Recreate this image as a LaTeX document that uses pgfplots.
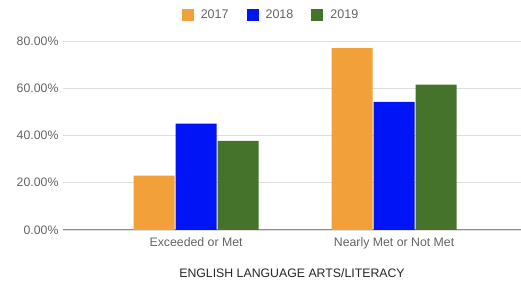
\documentclass[border=0pt]{standalone}
\usepackage{pgfplots}
\pgfplotsset{compat=1.18}
\usepackage{fontspec}
\setmainfont{Liberation Sans}
\definecolor{c17}{RGB}{241,160,58}
\definecolor{c18}{RGB}{0,20,245}
\definecolor{c19}{RGB}{69,115,43}
\definecolor{txt}{RGB}{100,100,100}
\begin{document}
\begin{tikzpicture}[x=1pt,y=1pt]
\path[use as bounding box] (0,0) rectangle (521,286);
\begin{axis}[
  at={(63pt,56pt)}, anchor=south west,
  scale only axis, width=458pt, height=189pt,
  ymin=0, ymax=80, xmin=-0.672, xmax=1.641,
  ytick={0,20,40,60,80},
  xtick={0,1}, xticklabels={Exceeded or Met, Nearly Met or Not Met},
  yticklabel={\pgfmathprintnumber[fixed,fixed zerofill,precision=2]{\tick}\%},
  /pgf/number format/assume math mode=true,
  ymajorgrids, grid style={draw=black!13, line width=0.8pt},
  axis y line*=left, y axis line style={draw=none},
  axis x line*=bottom,
  x axis line style={draw=black!45, line width=1pt, -},
  major tick length=0pt,
  tick label style={font=\fontsize{12.3}{14}\selectfont, text=txt},
  yticklabel style={xshift=-1pt},
  xticklabel style={yshift=-4pt},
  xlabel={ENGLISH LANGUAGE ARTS/LITERACY},
  xlabel style={font=\fontsize{12.3}{14}\selectfont, text=black!85, yshift=-13pt},
  ybar, bar width=41pt,
  legend style={at={(208pt,215pt)}, anchor=center, draw=none, fill=none,
    legend columns=3, font=\fontsize{12.5}{14}\selectfont, text=txt,
    /tikz/every odd column/.append style={column sep=5pt},
    /tikz/every even column/.append style={column sep=16pt}},
  legend image code/.code={\draw[#1, draw=none] (0pt,-6pt) rectangle (12pt,6pt);},
  clip=false,
]
\addplot[fill=c17, draw=none, bar shift=-42pt] coordinates {(0,23) (1,77)};
\addplot[fill=c18, draw=none, bar shift=0pt] coordinates {(0,45) (1,54.2)};
\addplot[fill=c19, draw=none, bar shift=42pt] coordinates {(0,37.7) (1,61.5)};
\legend{2017,2018,2019}
\end{axis}
\end{tikzpicture}
\end{document}
